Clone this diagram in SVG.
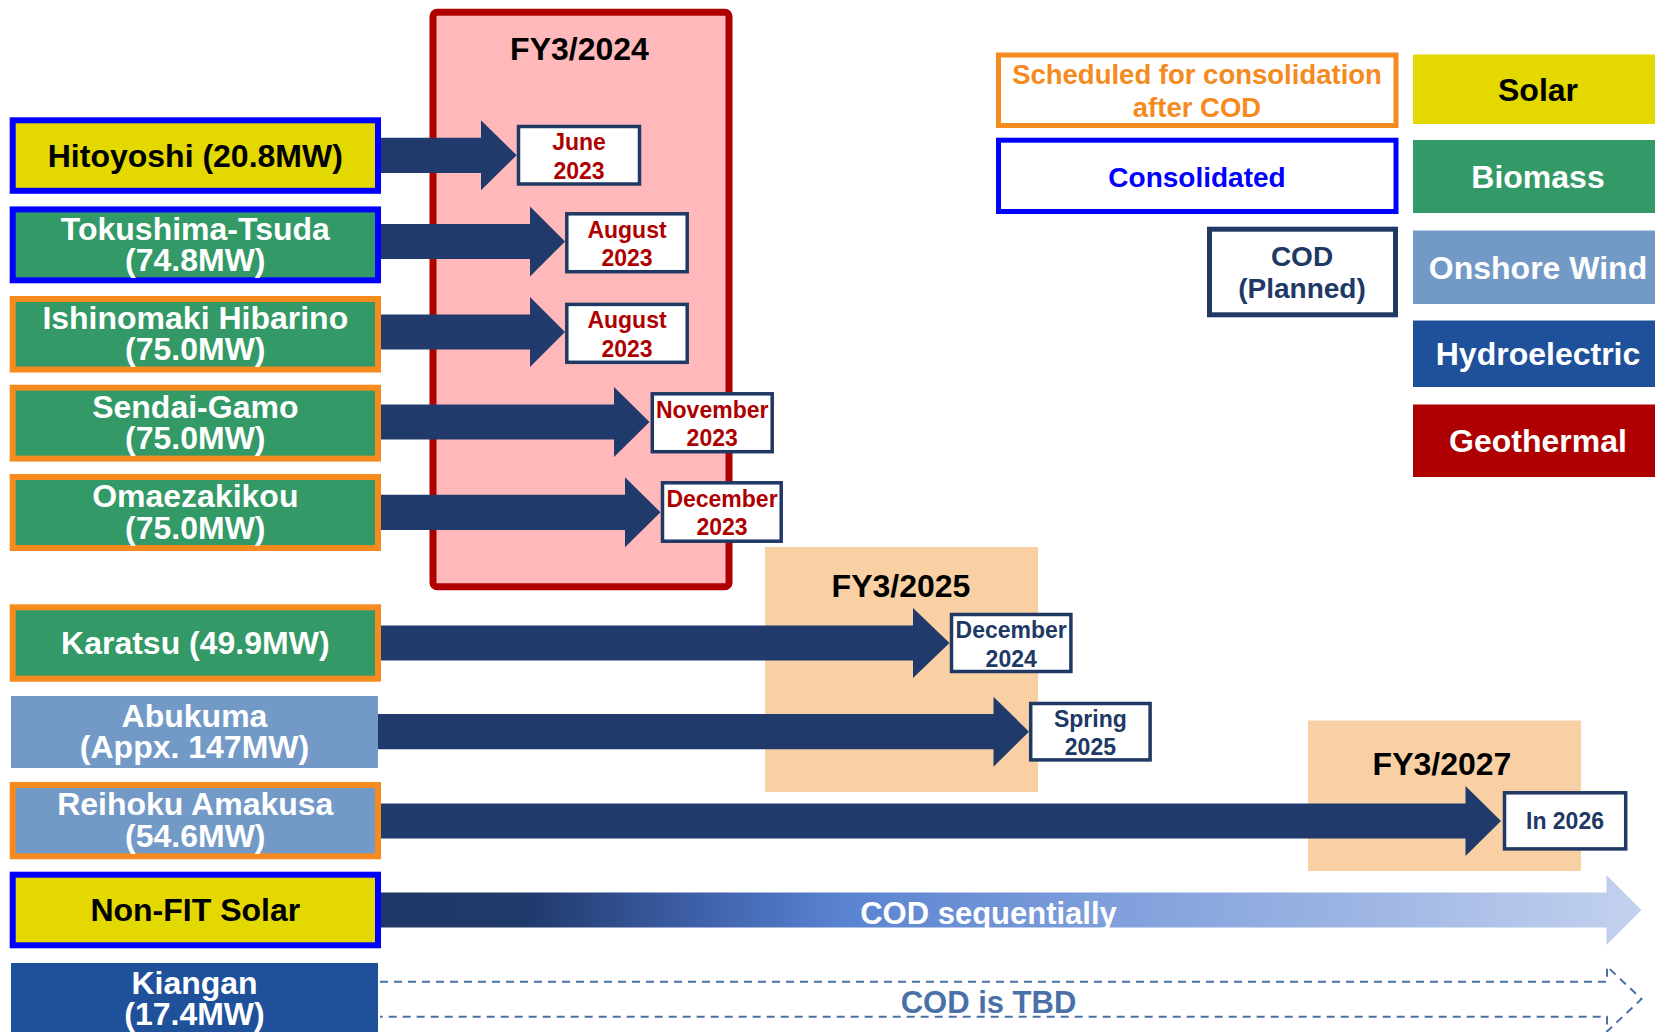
<svg xmlns="http://www.w3.org/2000/svg" width="1655" height="1032" viewBox="0 0 1655 1032">
<defs>
<style>
text{font-family:"Liberation Sans",Arial,sans-serif;font-weight:bold;text-anchor:middle}
.nm{font-size:32px;fill:#fff}
.nmk{font-size:32px;fill:#000}
.bc{stroke:#0000FF;stroke-width:6}
.bs{stroke:#F58A1F;stroke-width:6}
.solar{fill:#E3D800}
.bio{fill:#339966}
.wind{fill:#739AC7}
.hydro{fill:#1F519B}
.geo{fill:#AE0000}
.date{fill:#fff;stroke:#203864;stroke-width:3.5}
.dr{font-size:23px;fill:#AE0000}
.dn{font-size:23px;fill:#203864}
.fy{font-size:32px;fill:#000}
.arr{fill:#203A6C}
.lg{font-size:32px;fill:#fff}
</style>
<linearGradient id="grad" gradientUnits="userSpaceOnUse" x1="380" y1="0" x2="1641" y2="0">
<stop offset="0" stop-color="#1F3867"/>
<stop offset="0.117" stop-color="#213A6C"/>
<stop offset="0.248" stop-color="#3D5FA8"/>
<stop offset="0.367" stop-color="#5A83D0"/>
<stop offset="0.571" stop-color="#7E9EDB"/>
<stop offset="0.809" stop-color="#A3B9E5"/>
<stop offset="1" stop-color="#C3D2EE"/>
</linearGradient>
</defs>

<!-- period panels -->
<g id="fy2024">
<rect x="433" y="12.2" width="296" height="574.5" rx="4" fill="#FFB9BA" stroke="#AE0000" stroke-width="7"/>
<text class="fy" x="579.5" y="60">FY3/2024</text>
</g>
<g id="fy2025">
<rect x="765" y="547" width="273" height="245" fill="#F8D0A3"/>
<text class="fy" x="901" y="597">FY3/2025</text>
</g>
<g id="fy2027">
<rect x="1308" y="720.5" width="273" height="150.5" fill="#F8D0A3"/>
<text class="fy" x="1442" y="775">FY3/2027</text>
</g>

<!-- legend -->
<g id="legend-scheduled">
<rect x="998.5" y="55" width="397.5" height="70.5" fill="#fff" stroke="#F58A1F" stroke-width="5"/>
<text style="font-size:27.5px;fill:#F58A1F"><tspan x="1197" y="83.5">Scheduled for consolidation</tspan><tspan x="1197" y="117">after COD</tspan></text>
</g>
<g id="legend-consolidated">
<rect x="998.5" y="140.2" width="397.5" height="71.3" fill="#fff" stroke="#0000FF" stroke-width="5"/>
<text x="1197" y="186.5" style="font-size:28px;fill:#0000FF">Consolidated</text>
</g>
<g id="legend-cod">
<rect x="1209.5" y="229.2" width="186" height="85.6" fill="#fff" stroke="#203864" stroke-width="5"/>
<text style="font-size:28px;fill:#203864"><tspan x="1302" y="266">COD</tspan><tspan x="1302" y="298">(Planned)</tspan></text>
</g>
<g id="legend-solar">
<rect class="solar" x="1413" y="54.5" width="242" height="69.5"/>
<text class="nmk" x="1538" y="100.5">Solar</text>
</g>
<g id="legend-biomass">
<rect class="bio" x="1413" y="140" width="242" height="73"/>
<text class="lg" x="1538" y="188">Biomass</text>
</g>
<g id="legend-wind">
<rect class="wind" x="1413" y="230.5" width="242" height="73.5"/>
<text class="lg" x="1538" y="278.5">Onshore Wind</text>
</g>
<g id="legend-hydro">
<rect class="hydro" x="1413" y="320.5" width="242" height="66.5"/>
<text class="lg" x="1538" y="365">Hydroelectric</text>
</g>
<g id="legend-geo">
<rect class="geo" x="1413" y="404.5" width="242" height="72.5"/>
<text class="lg" x="1538" y="452">Geothermal</text>
</g>

<!-- project nodes -->
<g id="hitoyoshi">
<rect class="solar bc" x="12.7" y="120.3" width="365.3" height="70.5"/>
<text class="nmk" x="195.3" y="166.5">Hitoyoshi (20.8MW)</text>
</g>
<g id="tokushima">
<rect class="bio bc" x="12.7" y="209.4" width="365.3" height="70.9"/>
<text class="nm"><tspan x="195.3" y="239.5">Tokushima-Tsuda</tspan><tspan x="195.3" y="271">(74.8MW)</tspan></text>
</g>
<g id="ishinomaki">
<rect class="bio bs" x="12.7" y="299" width="365.3" height="70.5"/>
<text class="nm"><tspan x="195.3" y="328.5">Ishinomaki Hibarino</tspan><tspan x="195.3" y="360">(75.0MW)</tspan></text>
</g>
<g id="sendai">
<rect class="bio bs" x="12.7" y="387.7" width="365.3" height="70.9"/>
<text class="nm"><tspan x="195.3" y="417.5">Sendai-Gamo</tspan><tspan x="195.3" y="449">(75.0MW)</tspan></text>
</g>
<g id="omaezakikou">
<rect class="bio bs" x="12.7" y="477" width="365.3" height="71"/>
<text class="nm"><tspan x="195.3" y="507">Omaezakikou</tspan><tspan x="195.3" y="538.5">(75.0MW)</tspan></text>
</g>
<g id="karatsu">
<rect class="bio bs" x="12.7" y="607.3" width="365.3" height="71.4"/>
<text class="nm" x="195.3" y="654">Karatsu (49.9MW)</text>
</g>
<g id="abukuma">
<rect class="wind" x="11" y="696" width="367" height="72"/>
<text class="nm"><tspan x="194.5" y="726.5">Abukuma</tspan><tspan x="194.5" y="758">(Appx. 147MW)</tspan></text>
</g>
<g id="reihoku">
<rect class="wind bs" x="12.7" y="785" width="365.3" height="71.3"/>
<text class="nm"><tspan x="195.3" y="815">Reihoku Amakusa</tspan><tspan x="195.3" y="846.5">(54.6MW)</tspan></text>
</g>
<g id="nonfit">
<rect class="solar bc" x="12.7" y="874.7" width="365.3" height="70.6"/>
<text class="nmk" x="195.3" y="921">Non-FIT Solar</text>
</g>
<g id="kiangan">
<rect class="hydro" x="11" y="963" width="367" height="75"/>
<text class="nm"><tspan x="194.5" y="993.5">Kiangan</tspan><tspan x="194.5" y="1025">(17.4MW)</tspan></text>
</g>

<!-- connectors -->
<g id="connectors">
<polygon class="arr" points="381,137.7 481,137.7 481,120.3 516.7,155.3 481,190.3 481,172.9 381,172.9"/>
<polygon class="arr" points="381,223.9 530,223.9 530,206.5 565,241.5 530,276.5 530,259.1 381,259.1"/>
<polygon class="arr" points="381,314.4 530,314.4 530,297 565,332 530,367 530,349.6 381,349.6"/>
<polygon class="arr" points="381,404.4 614,404.4 614,387 649.5,422 614,457 614,439.6 381,439.6"/>
<polygon class="arr" points="381,494.7 625,494.7 625,477.3 660.5,512.3 625,547.3 625,529.9 381,529.9"/>
<polygon class="arr" points="381,625.4 913,625.4 913,608 949.5,643 913,678 913,660.6 381,660.6"/>
<polygon class="arr" points="378,714.1 993.5,714.1 993.5,696.7 1029,731.7 993.5,766.7 993.5,749.3 378,749.3"/>
<polygon class="arr" points="381,803.4 1465.5,803.4 1465.5,786 1501,821 1465.5,856 1465.5,838.6 381,838.6"/>
<polygon fill="url(#grad)" points="381,892.5 1606.5,892.5 1606.5,875 1641.5,910 1606.5,945 1606.5,927.5 381,927.5"/>
<text x="988.5" y="924" style="font-size:31px;fill:#fff">COD sequentially</text>
<path d="M380,981.7 H1607 V966.5 L1641.5,999 L1607,1031.5 V1016.8 H380" fill="none" stroke="#4A70A8" stroke-width="2" stroke-dasharray="8 6"/>
<text x="988.5" y="1013" style="font-size:31px;fill:#4A70A8">COD is TBD</text>
</g>

<!-- COD dates -->
<g id="d-june2023">
<rect class="date" x="518.5" y="126.5" width="121" height="57.5"/>
<text class="dr"><tspan x="579" y="150.2">June</tspan><tspan x="579" y="178.5">2023</tspan></text>
</g>
<g id="d-aug2023a">
<rect class="date" x="566.8" y="213.8" width="120.4" height="57.9"/>
<text class="dr"><tspan x="627" y="237.5">August</tspan><tspan x="627" y="265.8">2023</tspan></text>
</g>
<g id="d-aug2023b">
<rect class="date" x="566.8" y="304.4" width="120.4" height="57.9"/>
<text class="dr"><tspan x="627" y="328.2">August</tspan><tspan x="627" y="356.5">2023</tspan></text>
</g>
<g id="d-nov2023">
<rect class="date" x="652.3" y="393.8" width="119.9" height="57.9"/>
<text class="dr"><tspan x="712.2" y="417.5">November</tspan><tspan x="712.2" y="445.8">2023</tspan></text>
</g>
<g id="d-dec2023">
<rect class="date" x="662.5" y="482.8" width="118.7" height="58.4"/>
<text class="dr"><tspan x="722" y="506.7">December</tspan><tspan x="722" y="535">2023</tspan></text>
</g>
<g id="d-dec2024">
<rect class="date" x="951.5" y="614.5" width="119.4" height="57"/>
<text class="dn"><tspan x="1011.2" y="638.3">December</tspan><tspan x="1011.2" y="666.6">2024</tspan></text>
</g>
<g id="d-spring2025">
<rect class="date" x="1030.7" y="703.5" width="119.4" height="56.4"/>
<text class="dn"><tspan x="1090.4" y="727">Spring</tspan><tspan x="1090.4" y="755.3">2025</tspan></text>
</g>
<g id="d-in2026">
<rect class="date" x="1504.5" y="792.8" width="121.2" height="56.1"/>
<text class="dn" x="1565" y="829">In 2026</text>
</g>
</svg>
